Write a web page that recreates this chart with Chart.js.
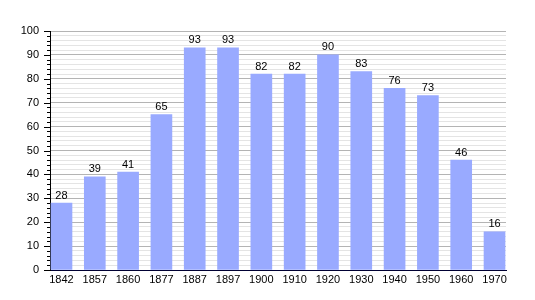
<!DOCTYPE html>
<html>
<head>
<meta charset="utf-8">
<script src="https://cdn.jsdelivr.net/npm/chart.js@4"></script>
<style>
  html,body{margin:0;padding:0;background:#fff;}
  #wrap{width:535px;height:300px;}
</style>
</head>
<body>
<div id="wrap"><canvas id="c" width="535" height="300"></canvas></div>
<script>
const years = ['1842','1857','1860','1877','1887','1897','1900','1910','1920','1930','1940','1950','1960','1970'];
const population = [28, 39, 41, 65, 93, 93, 82, 82, 90, 83, 76, 73, 46, 16];
const yTicks = [0, 10, 20, 30, 40, 50, 60, 70, 80, 90, 100];

const FONT = 'Liberation Sans, Arial, sans-serif';

// value labels above each bar
const barLabels = {
  id: 'barLabels',
  afterDatasetsDraw(chart){
    const ctx = chart.ctx;
    const meta = chart.getDatasetMeta(0);
    ctx.save();
    ctx.font = '11px ' + FONT;
    ctx.fillStyle = '#000';
    ctx.textAlign = 'center';
    ctx.textBaseline = 'bottom';
    meta.data.forEach((bar, i) => {
      ctx.fillText(String(population[i]), bar.x, bar.y - 2);
    });
    ctx.restore();
  }
};

// major / minor tick marks on the y axis
const yTickMarks = {
  id: 'yTickMarks',
  afterDraw(chart){
    const ctx = chart.ctx;
    const y = chart.scales.y;
    const x0 = chart.chartArea.left;
    ctx.save();
    ctx.strokeStyle = '#000';
    ctx.lineWidth = 1;
    y.ticks.forEach(t => {
      const py = Math.round(y.getPixelForValue(t.value)) + 0.5;
      const len = t.value % 10 === 0 ? 6 : 3;
      ctx.beginPath();
      ctx.moveTo(x0 - len, py);
      ctx.lineTo(x0, py);
      ctx.stroke();
    });
    ctx.restore();
  }
};

new Chart(document.getElementById('c'), {
  type: 'bar',
  data: {
    datasets: [{
      data: population.map((v, i) => ({x: i, y: v})),
      backgroundColor: '#99aaff',
      borderWidth: 0,
      barThickness: 21
    }]
  },
  options: {
    responsive: false,
    animation: false,
    layout: { padding: { top: 31, right: 29, left: 0, bottom: 0 } },
    plugins: { legend: { display: false }, tooltip: { enabled: false } },
    scales: {
      x: {
        type: 'linear',
        offset: false,
        min: -0.345,
        max: 13.345,
        grid: { display: false, drawTicks: false, offset: false },
        border: { color: '#000033', width: 1 },
        afterBuildTicks: s => { s.ticks = years.map((_, i) => ({value: i})); },
        afterFit: s => { s.height = 30; },
        ticks: {
          autoSkip: false,
          maxRotation: 0,
          padding: 3,
          color: '#000',
          font: { family: FONT, size: 11 },
          callback: v => years[v]
        }
      },
      y: {
        min: 0,
        max: 100,
        afterBuildTicks: s => {
          const t = [];
          for (let v = 0; v <= 100; v += 2) t.push({value: v});
          s.ticks = t;
        },
        afterFit: s => { s.width = 50; },
        grid: {
          drawTicks: false,
          color: c => (c.tick && c.tick.value % 10 === 0) ? '#b4b4b4' : '#e4e4e4'
        },
        border: { color: '#000', width: 1 },
        ticks: {
          autoSkip: false,
          padding: 11,
          color: '#000',
          font: { family: FONT, size: 11 },
          callback: v => yTicks.includes(v) ? String(v) : ''
        }
      }
    }
  },
  plugins: [barLabels, yTickMarks]
});
</script>
</body>
</html>
